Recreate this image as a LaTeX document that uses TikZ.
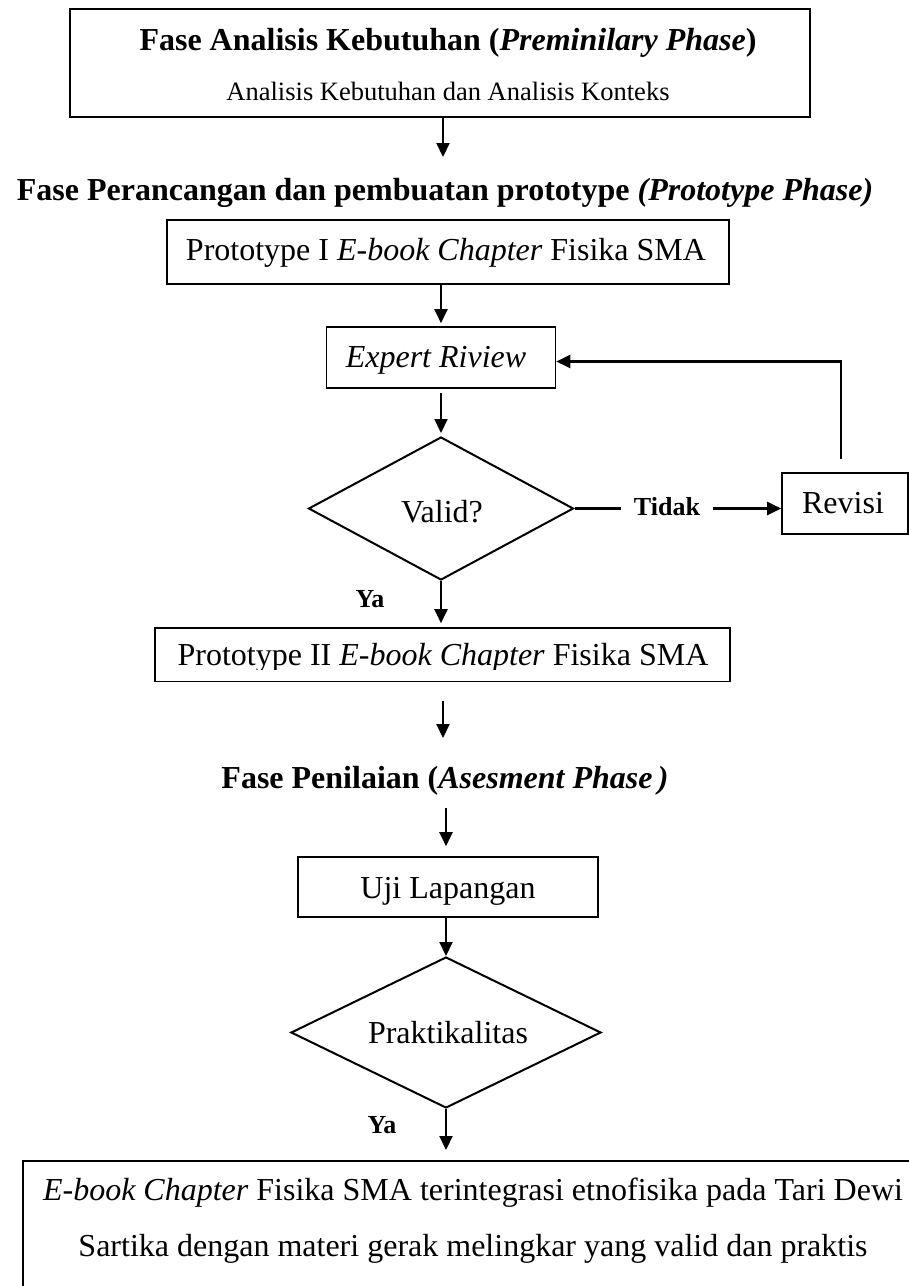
\documentclass[tikz,border=0pt]{standalone}
\usepackage{fontspec}
\setmainfont{Liberation Serif}
\usetikzlibrary{shapes.geometric,arrows.meta}
\begin{document}
\begin{tikzpicture}[x=1pt,y=-1pt,
  box/.style={draw,line width=1.6pt,inner sep=0pt},
  dia/.style={diamond,draw,line width=2pt,shape aspect=2,inner sep=0pt},
  txt/.style={inner sep=0pt,anchor=base,font=\fontsize{32}{38}\selectfont},
  subtxt/.style={inner sep=0pt,anchor=base,font=\fontsize{26.5}{32}\selectfont},
  head/.style={inner sep=0pt,anchor=base,font=\fontsize{32}{38}\selectfont\bfseries},
  lbl/.style={inner ysep=0pt,inner xsep=12.5pt,anchor=base,font=\fontsize{26}{30}\selectfont\bfseries},
  ln/.style={line width=2.1pt},
  arr/.style={line width=2.1pt,-{Triangle[length=14pt,width=13pt]}}
]
\useasboundingbox (0,0) rectangle (909,1286);
\clip (0,0) rectangle (909,1286);

% top box
\node[box,minimum width=740pt,minimum height=108pt] (top) at (440,63) {};
\node[head] (toptitle) at (448,50) {Fase Analisis Kebutuhan (\textit{Preminilary Phase})};
\node[subtxt] (topsub) at (448,100) {Analisis Kebutuhan dan Analisis Konteks};

% heading 2
\node[head] (head2) at (445,200) {Fase Perancangan dan pembuatan prototype \textit{(Prototype Phase)}};

% prototype I
\node[box,minimum width=562pt,minimum height=64pt] (protoI) at (448,252) {};
\node[txt] (protoItxt) at (446,260) {Prototype I \textit{E-book Chapter} Fisika SMA};

% expert review
\node[box,minimum width=229pt,minimum height=61pt] (expert) at (441,357.5) {};
\node[txt] (experttxt) at (436,367) {\textit{Expert Riview}};

% valid diamond
\node[dia,minimum width=265pt,minimum height=143pt] (valid) at (441,508.5) {};
\node[txt] (validtxt) at (442,522) {Valid?};

% tidak + revisi
\node[lbl] (tidak) at (667,515) {Tidak};
\node[box,minimum width=126pt,minimum height=61pt] (revisi) at (845,503.5) {};
\node[txt] (revisitxt) at (843,513) {Revisi};

\node[lbl,inner xsep=0pt] (ya1) at (370,607) {Ya};

% prototype II
\node[box,minimum width=575pt,minimum height=53pt] (protoII) at (442.5,654.5) {};
\node[txt] (protoIItxt) at (443,665) {Prototype II \textit{E-book Chapter} Fisika SMA};
\fill[white] ([xshift=2pt,yshift=1.2pt]protoII.south west) rectangle ([xshift=-2pt,yshift=12pt]protoII.south east);

% heading 3
\node[head] (head3) at (445,788) {Fase Penilaian (\textit{Asesment Phase\,)}};

% uji lapangan
\node[box,minimum width=300pt,minimum height=60pt] (uji) at (448,887) {};
\node[txt] (ujitxt) at (448,898) {Uji Lapangan};

% praktikalitas diamond
\node[dia,minimum width=310pt,minimum height=151pt] (prak) at (446,1032.5) {};
\node[txt] (praktxt) at (448,1043) {Praktikalitas};

\node[lbl,inner xsep=0pt] (ya2) at (382,1133) {Ya};

% final box
\node[box,anchor=north west,minimum width=910pt,minimum height=200pt] (final) at (22,1160) {};
\node[txt] (fin1) at (473,1200) {\textit{E-book Chapter} Fisika SMA terintegrasi etnofisika pada Tari Dewi};
\node[txt] (fin2) at (473,1256) {Sartika dengan materi gerak melingkar yang valid dan praktis};

% connectors
\coordinate (a1end) at (443,157);
\draw[arr] (top.south -| a1end) -- (a1end);
\draw[arr,shorten >=3pt] (expert.north |- protoI.south) -- (expert.north);
\draw[arr,shorten <=4pt,shorten >=3pt] (expert.south) -- (valid.north);
\draw[ln] (valid.east) -- (valid.east -| tidak.west);
\draw[arr] (valid.east -| tidak.east) -- (valid.east -| revisi.west);
\draw[arr] ([xshift=-4pt,yshift=13pt]revisi.north) |- ([yshift=-4pt]expert.east);
\draw[arr,shorten >=4pt] (valid.south) -- (valid.south |- protoII.north);
\coordinate (a5end) at (443,738);
\draw[arr,shorten <=19pt] (protoII.south -| a5end) -- (a5end);
\coordinate (a6start) at (446,808);
\draw[arr,shorten >=10pt] (a6start) -- (a6start |- uji.north);
\draw[arr] (uji.south -| prak.north) -- (prak.north);
\draw[arr,shorten >=10pt] (prak.south) -- (prak.south |- final.north);
\end{tikzpicture}
\end{document}
